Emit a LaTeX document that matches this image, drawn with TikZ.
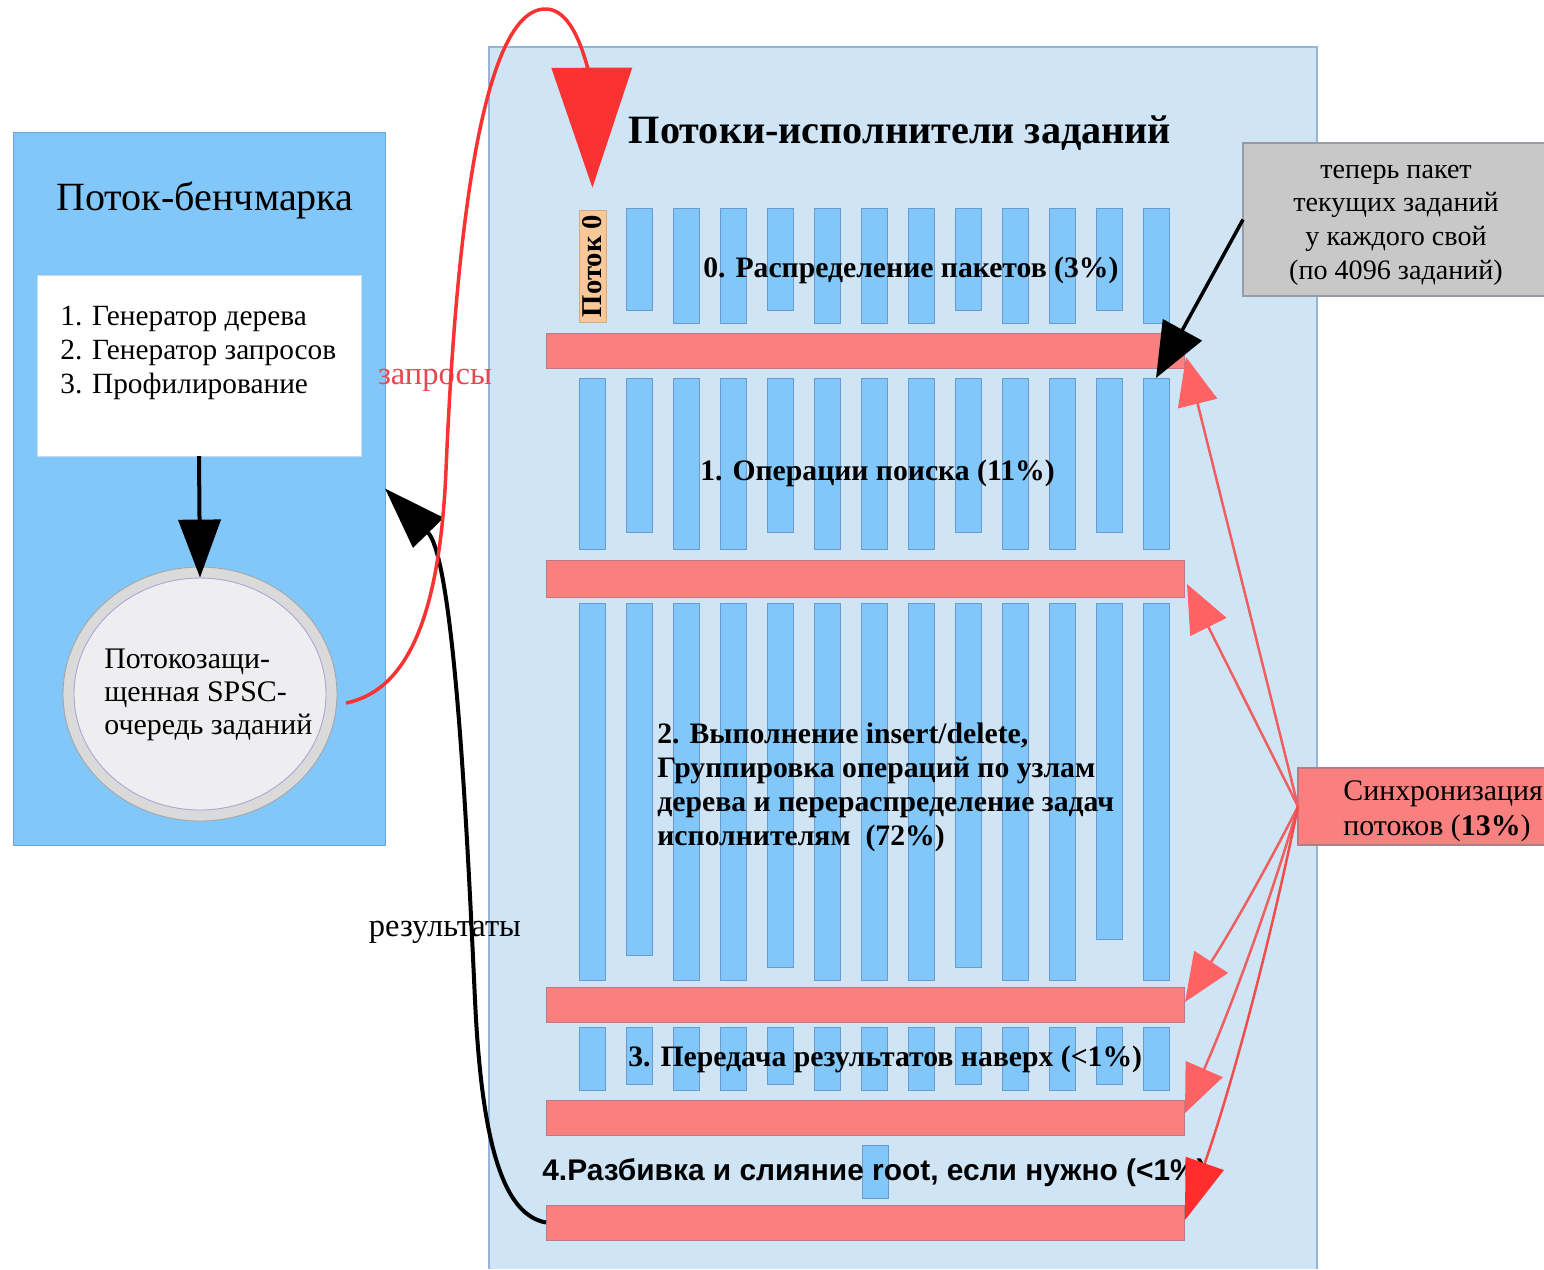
\documentclass[tikz,border=0pt]{standalone}
\usepackage{fontspec}
\setmainfont{Liberation Serif}
\newfontfamily\arialf{Liberation Sans}
\usetikzlibrary{arrows.meta,fit,shapes.geometric}
\definecolor{lbox}{RGB}{130,199,250}
\definecolor{lboxe}{RGB}{105,165,220}
\definecolor{rbox}{RGB}{207,228,245}
\definecolor{rboxe}{RGB}{150,180,215}
\definecolor{barc}{RGB}{130,199,250}
\definecolor{bare}{RGB}{105,155,205}
\definecolor{redbarc}{RGB}{250,128,128}
\definecolor{redbare}{RGB}{190,120,135}
\definecolor{orng}{RGB}{249,200,152}
\definecolor{grybox}{RGB}{200,200,200}
\definecolor{gryboxe}{RGB}{150,155,165}
\definecolor{syncl}{RGB}{240,95,95}
\definecolor{synch}{RGB}{255,98,98}
\definecolor{synch5}{RGB}{255,45,45}
\definecolor{reqr}{RGB}{250,50,50}
\definecolor{reqt}{RGB}{232,70,80}
\definecolor{ringc}{RGB}{218,218,218}
\definecolor{qfill}{RGB}{238,238,240}
\newcommand{\fs}[2]{\fontsize{#1}{#2}\selectfont}
\tikzset{
 rect/.style={inner sep=0pt, outer sep=0pt},
 barst/.style={rect, fill=barc, draw=bare, line width=0.5pt},
 rbarst/.style={rect, fill=redbarc, draw=redbare, line width=0.5pt},
 synarr/.style={draw=syncl, line width=0.05cm, -{Triangle[length=0.96cm,width=0.8cm,color=synch]}},
 stagetxt/.style={inner sep=0pt, font=\bfseries\fs{16.9}{19.3}, anchor=west},
 plaintxt/.style={inner sep=0pt},
}
\begin{document}
\begin{tikzpicture}[x=0.02cm,y=-0.02cm]
\useasboundingbox (0,0) rectangle (1544,1269);
\fill[white] (0,0) rectangle (1544,1269);

% ---------- left block ----------
\node[rect, fill=lbox, draw=lboxe, line width=0.5pt, fit={(13,132) (385,845)}] (lb) {};
\node[plaintxt, font=\fs{22.8}{27}] (lbt) at (205,200) {Поток-бенчмарка};
\node[rect, fill=white, draw=lboxe!40, line width=0.5pt, fit={(37,275) (361,456)}] (wb) {};
\node[plaintxt, anchor=west, align=left, font=\fs{16.7}{19.3}] (wbt) at (60,353) {1. Генератор дерева\\2. Генератор запросов\\3. Профилирование};
\node[ellipse, fill=ringc, draw=gray!70, line width=0.5pt, minimum width=5.48cm, minimum height=5.08cm, inner sep=0pt] (q) at (200,694) {};
\node[ellipse, fill=qfill, draw=gray!60!blue!50, line width=0.5pt, minimum width=5.04cm, minimum height=4.64cm, inner sep=0pt] (qi) at (200,694) {};
\node[plaintxt, anchor=west, align=left, font=\fs{17}{19}] (qt) at (104,695) {Потокозащи-\\щенная SPSC-\\очередь заданий};

% ---------- right block ----------
\node[rect, fill=rbox, fit={(489,47) (1317,1269)}] (rbx) {};
\draw[rboxe, line width=0.6pt] (rbx.south west) -- (rbx.north west) -- (rbx.north east) -- (rbx.south east);
\node[plaintxt, font=\bfseries\fs{22.9}{27}] (rt) at (900,133) {Потоки-исполнители заданий};

\node[fill=orng, draw=orng!85!black, line width=0.4pt, rotate=90, minimum width=2.24cm, minimum height=0.54cm, inner sep=0pt, font=\bfseries\fs{16.3}{18}] (p0) at (592.5,266) {Поток 0};

\foreach \i/\b in {1/310,2/323,3/323,4/310,5/323,6/323,7/323,8/310,9/323,10/323,11/310,12/323}
  \node[barst, fit={({579+47*\i},208) ({605+47*\i},\b)}] (ga\i) {};
\foreach \i/\b in {0/549,1/532,2/549,3/549,4/532,5/549,6/549,7/549,8/532,9/549,10/549,11/532,12/549}
  \node[barst, fit={({579+47*\i},378) ({605+47*\i},\b)}] (gb\i) {};
\foreach \i/\b in {0/980,1/955,2/980,3/980,4/967,5/980,6/980,7/980,8/967,9/980,10/980,11/939,12/980}
  \node[barst, fit={({579+47*\i},603) ({605+47*\i},\b)}] (gc\i) {};
\foreach \i/\b in {0/1090,1/1084,2/1090,3/1090,4/1084,5/1090,6/1090,7/1090,8/1084,9/1090,10/1090,11/1084,12/1090}
  \node[barst, fit={({579+47*\i},1027) ({605+47*\i},\b)}] (gd\i) {};
\node[barst, fit={(862,1145) (888,1198)}] (ge) {};

\node[rbarst, fit={(546,333) (1184,368)}] (rb1) {};
\node[rbarst, fit={(546,560) (1184,597)}] (rb2) {};
\node[rbarst, fit={(546,987) (1184,1022)}] (rb3) {};
\node[rbarst, fit={(546,1100) (1184,1135)}] (rb4) {};
\node[rbarst, fit={(546,1205) (1184,1240)}] (rb5) {};

\node[stagetxt] (s0) at (703,270) {0. Распределение пакетов (3\%)};
\node[stagetxt] (s1) at (700,473) {1. Операции поиска (11\%)};
\node[stagetxt, align=left] (s2) at (657,787) {2. Выполнение insert/delete,\\Группировка операций по узлам\\дерева и перераспределение задач\\исполнителям~~(72\%)};
\node[stagetxt] (s3) at (628,1059) {3. Передача результатов наверх (<1\%)};
\node[plaintxt, anchor=west, font=\arialf\bfseries\fs{17}{20}] (s4) at (542,1173) {4.Разбивка и слияние root, если нужно (<1\%)};

% ---------- callouts ----------
\node[rect, fill=grybox, fit={(1243,143) (1544,296)}] (gbx) {};
\draw[gryboxe, line width=0.6pt] (gbx.north east) -- (gbx.north west) -- (gbx.south west) -- (gbx.south east);
\node[plaintxt, align=center, font=\fs{16}{19.2}] (gbt) at (1396,225) {теперь пакет\\текущих заданий\\у каждого свой\\(по 4096 заданий)};

\node[rect, fill=redbarc, fit={(1298,768) (1544,845)}] (sy) {};
\draw[redbare, line width=0.6pt] (sy.north east) -- (sy.north west) -- (sy.south west) -- (sy.south east);
\node[plaintxt, anchor=west, align=left, font=\fs{17}{19.8}] (syt) at (1343,811) {Синхронизация\\потоков (\textbf{13\%})};

% ---------- labels ----------
\node[plaintxt, text=reqt, font=\fs{18.5}{22}] (lreq) at (435,380) {запросы};
\node[plaintxt, font=\fs{18.5}{22}] (lres) at (445,932) {результаты};

% ---------- connectors ----------
\draw[black, line width=0.08cm, -{Triangle[length=1.16cm,width=0.84cm]}] (wb.south) -- (qi.north);
\draw[black, line width=0.07cm, -{Triangle[length=1.1cm,width=0.88cm]}] (gbx.west) -- (gb12.north);

\coordinate (t1) at (1186,357);
\coordinate (t2) at (1187,584);
\coordinate (t3) at (1185,1002);
\coordinate (t4) at (1185,1113);
\coordinate (t5) at (1185,1220);
\draw[synarr] (sy.west) -- (t1);
\draw[synarr] (sy.west) -- (t2);
\draw[synarr] (sy.west) .. controls (1265,871) and (1228,936) .. (t3);
\draw[synarr] (sy.west) .. controls (1268,908) and (1230,1010) .. (t4);
\draw[draw=syncl!80!red, line width=0.05cm, -{Triangle[length=1.2cm,width=0.8cm,color=synch5]}] (sy.west) .. controls (1270,943) and (1233,1082) .. (t5);

\draw[black, line width=0.08cm, -{Triangle[length=1.24cm,width=0.84cm]}] (rb5.west) .. controls (505,1215) and (482,1150) .. (475,1000) .. controls (468,850) and (455,560) .. (lb.east);

\coordinate (qs) at (346,703);
\draw[reqr, line width=0.07cm, -{Triangle[length=2.4cm,width=1.6cm]}, shorten >=0.44cm] (qs) .. controls (410,690) and (440,610) .. (446,470) .. controls (452,330) and (470,10) .. (545,9) .. controls (585,8) and (592,110) .. (p0.east);
\end{tikzpicture}
\end{document}
